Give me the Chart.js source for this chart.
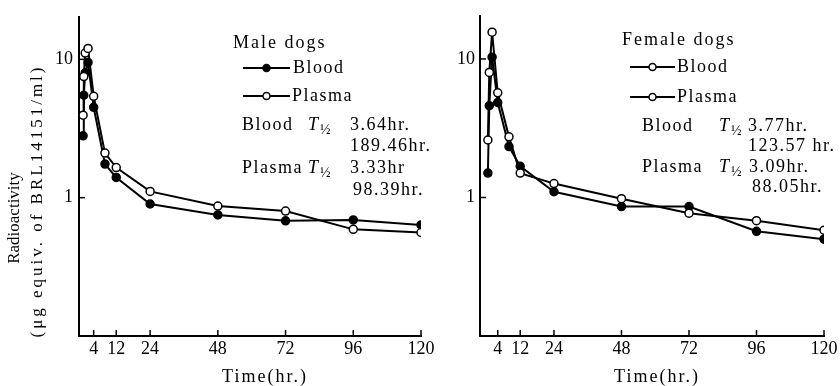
<!DOCTYPE html>
<html>
<head>
<meta charset="utf-8">
<script src="https://cdn.jsdelivr.net/npm/chart.js@4"></script>
<style>
    html, body { margin: 0; padding: 0; background: #fff; }
    #wrap { position: relative; width: 840px; height: 386px; }
    canvas { position: absolute; top: 0; }
    #maleChart { left: 0; }
    #femaleChart { left: 440px; }
</style>
</head>
<body>
<div id="wrap">
    <canvas id="maleChart" width="440" height="386"></canvas>
    <canvas id="femaleChart" width="400" height="386"></canvas>
</div>
<script>
// Dados (hr. / μg equiv. de BRL14151/ml)
const timesMale = [0.25, 0.5, 1, 2, 4, 8, 12, 24, 48, 72, 96, 120];
const maleBlood = [2.8, 5.5, 8.0, 9.5, 4.5, 1.75, 1.40, 0.90, 0.75, 0.68, 0.69, 0.635];
const malePlasma = [3.95, 7.5, 11.1, 12.0, 5.4, 2.1, 1.65, 1.11, 0.87, 0.80, 0.59, 0.56];

const timesFemale = [0.5, 1, 2, 4, 8, 12, 24, 48, 72, 96, 120];
const femaleBlood = [1.5, 4.6, 10.3, 4.85, 2.33, 1.68, 1.10, 0.86, 0.86, 0.57, 0.50];
const femalePlasma = [2.6, 8.0, 15.6, 5.7, 2.74, 1.50, 1.26, 0.98, 0.77, 0.68, 0.58];

const xTicks = [4, 12, 24, 48, 72, 96, 120];
const yTicks = [1, 10];

const SERIF = "'Liberation Serif', 'DejaVu Serif', serif";

// Escreve texto no canvas
function txt(ctx, s, x, y, size, opts = {}) {
    ctx.font = `${opts.italic ? 'italic ' : ''}${size}px ${SERIF}`;
    ctx.letterSpacing = (opts.spacing ?? 1.5) + 'px';
    ctx.textAlign = opts.align || 'left';
    ctx.textBaseline = 'middle';
    ctx.fillStyle = '#000';
    ctx.fillText(s, x, y);
}

function halfLife(ctx, x, y) {
    txt(ctx, 'T', x, y, 18, { italic: true, spacing: 0 });
    txt(ctx, '½', x + 12, y + 5, 14, { spacing: 0 });
}

function legendRow(ctx, x1, x2, y, filled) {
    ctx.save();
    ctx.strokeStyle = '#000';
    ctx.lineWidth = 2;
    ctx.beginPath();
    ctx.moveTo(x1, y);
    ctx.lineTo(x2, y);
    ctx.stroke();
    ctx.beginPath();
    ctx.arc((x1 + x2) / 2, y, 3.5, 0, Math.PI * 2);
    ctx.fillStyle = filled ? '#000' : '#fff';
    ctx.fill();
    ctx.lineWidth = 1.5;
    ctx.stroke();
    ctx.restore();
}

// Marcas de escala para dentro
const insideTicks = {
    id: 'insideTicks',
    afterDraw(chart) {
        const { ctx, chartArea, scales: { x, y } } = chart;
        ctx.save();
        ctx.strokeStyle = '#000';
        ctx.lineWidth = 1.5;
        x.ticks.forEach(t => {
            const px = x.getPixelForValue(t.value);
            ctx.beginPath();
            ctx.moveTo(px, chartArea.bottom);
            ctx.lineTo(px, chartArea.bottom - 6);
            ctx.stroke();
        });
        y.ticks.forEach(t => {
            const py = y.getPixelForValue(t.value);
            ctx.beginPath();
            ctx.moveTo(chartArea.left, py);
            ctx.lineTo(chartArea.left + 6, py);
            ctx.stroke();
        });
        ctx.restore();
    }
};

function series(times, values, filled) {
    return {
        data: times.map((t, i) => ({ x: t, y: values[i] })),
        borderColor: '#000',
        borderWidth: 2,
        backgroundColor: filled ? '#000' : '#fff',
        pointBackgroundColor: filled ? '#000' : '#fff',
        pointBorderColor: '#000',
        pointBorderWidth: 1.5,
        pointRadius: 4,
        tension: 0
    };
}

function makeChart(canvas, cfg) {
    return new Chart(canvas, {
        type: 'line',
        data: {
            datasets: [
                series(cfg.times, cfg.plasma, false),
                series(cfg.times, cfg.blood, true)
            ]
        },
        options: {
            responsive: false,
            animation: false,
            layout: { padding: { top: cfg.padTop, right: cfg.padRight, left: 0, bottom: 0 } },
            plugins: { legend: { display: false }, tooltip: { enabled: false } },
            scales: {
                x: {
                    type: 'linear',
                    min: cfg.xMin,
                    max: 120,
                    afterBuildTicks: s => { s.ticks = xTicks.map(v => ({ value: v })); },
                    afterFit: s => { s.height = 50; },
                    grid: { display: false, drawTicks: false },
                    border: { display: true, color: '#000', width: 2 },
                    ticks: { color: '#000', padding: 2, maxRotation: 0, font: { family: SERIF, size: 18 } }
                },
                y: {
                    type: 'logarithmic',
                    min: 0.1,
                    max: cfg.yMax,
                    afterBuildTicks: s => { s.ticks = yTicks.map(v => ({ value: v })); },
                    afterFit: s => { s.width = cfg.yWidth; },
                    grid: { display: false, drawTicks: false },
                    border: { display: true, color: '#000', width: 2 },
                    ticks: { color: '#000', padding: cfg.yPad, callback: v => String(v), font: { family: SERIF, size: 18 } }
                }
            }
        },
        plugins: [insideTicks, { id: 'notes', afterDraw: chart => cfg.notes(chart.ctx) }]
    });
}

// Painel esquerdo: machos
makeChart(document.getElementById('maleChart'), {
    times: timesMale, blood: maleBlood, plasma: malePlasma,
    xMin: -1.2, yMax: 20.3, padTop: 12, padRight: 19, yWidth: 79, yPad: 6,
    notes: ctx => {
        txt(ctx, 'Male dogs', 233, 43, 18, { spacing: 2 });
        legendRow(ctx, 243, 290, 68, true);
        txt(ctx, 'Blood', 293, 68, 18);
        legendRow(ctx, 243, 290, 96, false);
        txt(ctx, 'Plasma', 292, 96, 18);
        txt(ctx, 'Blood', 242, 125, 18);
        halfLife(ctx, 308, 125);
        txt(ctx, '3.64hr.', 350, 125, 18);
        txt(ctx, '189.46hr.', 350, 146, 18);
        txt(ctx, 'Plasma', 242, 168, 18);
        halfLife(ctx, 308, 168);
        txt(ctx, '3.33hr', 350, 168, 18);
        txt(ctx, '98.39hr.', 353, 190, 18);
        txt(ctx, 'Time(hr.)', 265, 377, 18, { align: 'center', spacing: 2 });
        // título do eixo Y
        ctx.save();
        ctx.translate(15, 218);
        ctx.rotate(-Math.PI / 2);
        txt(ctx, 'Radioactivity', 0, 0, 17, { align: 'center', spacing: 0 });
        ctx.restore();
        ctx.save();
        ctx.translate(38, 201);
        ctx.rotate(-Math.PI / 2);
        txt(ctx, '(μg equiv. of BRL14151/ml)', 0, 0, 17, { align: 'center', spacing: 3 });
        ctx.restore();
    }
});

// Painel direito: fêmeas
makeChart(document.getElementById('femaleChart'), {
    times: timesFemale, blood: femaleBlood, plasma: femalePlasma,
    xMin: -2.3, yMax: 20.5, padTop: 10, padRight: 16, yWidth: 40, yPad: 5,
    notes: ctx => {
        const o = 440;
        txt(ctx, 'Female dogs', 622 - o, 40, 18, { spacing: 2 });
        legendRow(ctx, 630 - o, 675 - o, 67, false);
        txt(ctx, 'Blood', 677 - o, 67, 18);
        legendRow(ctx, 630 - o, 675 - o, 97, false);
        txt(ctx, 'Plasma', 677 - o, 97, 18);
        txt(ctx, 'Blood', 642 - o, 126, 18);
        halfLife(ctx, 719 - o, 126);
        txt(ctx, '3.77hr.', 748 - o, 126, 18);
        txt(ctx, '123.57 hr.', 748 - o, 146, 18);
        txt(ctx, 'Plasma', 642 - o, 167, 18);
        halfLife(ctx, 719 - o, 167);
        txt(ctx, '3.09hr.', 749 - o, 167, 18);
        txt(ctx, '88.05hr.', 752 - o, 187, 18);
        txt(ctx, 'Time(hr.)', 657 - o, 377, 18, { align: 'center', spacing: 2 });
    }
});
</script>
</body>
</html>
